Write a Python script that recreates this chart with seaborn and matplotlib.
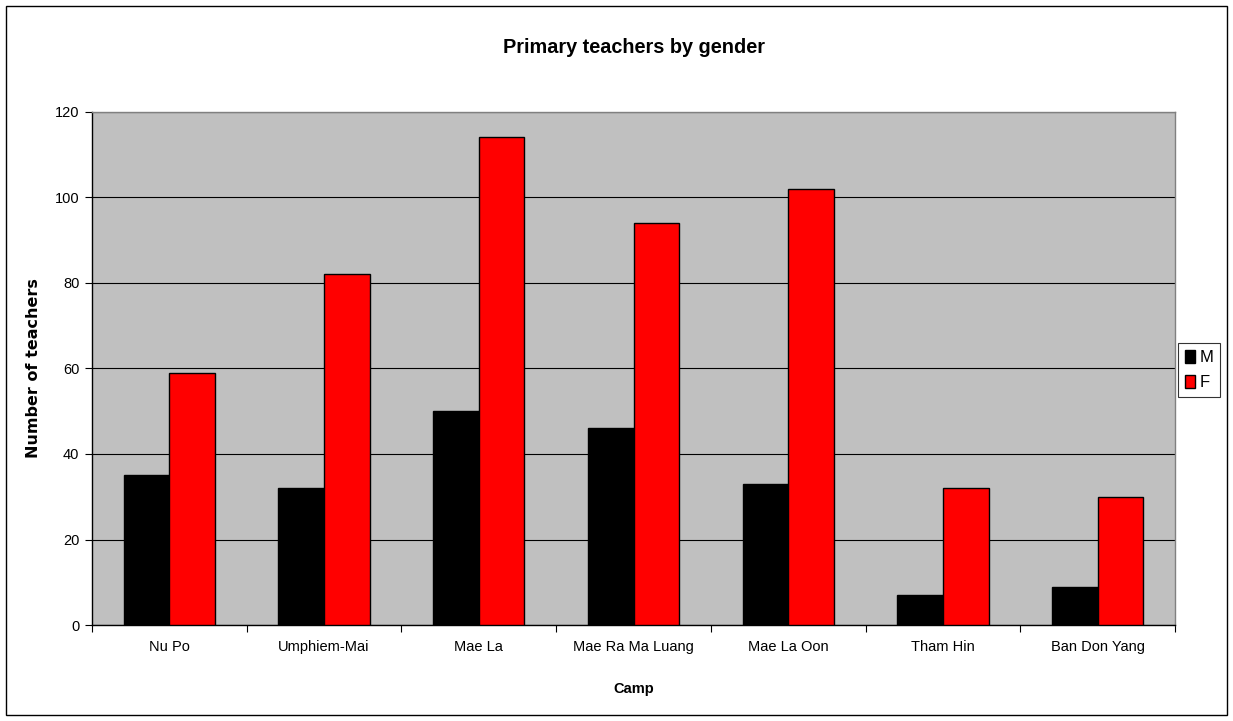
import numpy as np
import pandas as pd
import matplotlib
matplotlib.use("Agg")
import matplotlib.pyplot as plt
import seaborn as sns
from matplotlib.patches import Rectangle

# --- DATA ---
camps = ["Nu Po", "Umphiem-Mai", "Mae La", "Mae Ra Ma Luang",
         "Mae La Oon", "Tham Hin", "Ban Don Yang"]
male = [35, 32, 50, 46, 33, 7, 9]
female = [59, 82, 114, 94, 102, 32, 30]
genders = ["M", "F"]
yticks = [0, 20, 40, 60, 80, 100, 120]

df = pd.DataFrame({
    "Camp": camps * 2,
    "Gender": ["M"] * len(camps) + ["F"] * len(camps),
    "Teachers": male + female,
})

sns.set_style("white")
plt.rcParams["font.family"] = ["Liberation Sans", "DejaVu Sans"]
plt.rcParams["text.color"] = "black"
plt.rcParams["axes.labelcolor"] = "black"
plt.rcParams["xtick.color"] = "black"
plt.rcParams["ytick.color"] = "black"

fig = plt.figure(figsize=(12.33, 7.21), dpi=100)
ax = fig.add_axes([0.0746, 0.133, 0.953 - 0.0746, 0.712])

sns.barplot(data=df, x="Camp", y="Teachers", hue="Gender", hue_order=genders,
            palette={"M": "#000000", "F": "#FF0000"}, width=0.59,
            edgecolor="black", linewidth=1.0, saturation=1, ax=ax, zorder=3)

ax.set_facecolor("#C0C0C0")
ax.set_ylim(0, 120)
ax.set_xlim(-0.5, len(camps) - 0.5)
ax.set_yticks(yticks)
ax.yaxis.grid(True, color="black", linewidth=0.8, zorder=1)
ax.set_axisbelow(True)

# tick marks between categories like the original
ax.set_xticks(np.arange(-0.5, len(camps), 1.0), minor=True)
ax.tick_params(axis="x", which="major", bottom=True, length=0, pad=11, labelsize=10.5)
ax.tick_params(axis="x", which="minor", bottom=True, length=5, width=0.8, color="black", direction="out")
ax.tick_params(axis="y", left=True, length=5, width=0.8, color="black", direction="out", labelsize=10.5, pad=4)

for side in ["top", "right"]:
    ax.spines[side].set_color("#808080")
    ax.spines[side].set_linewidth(1.0)
for side in ["left", "bottom"]:
    ax.spines[side].set_color("black")
    ax.spines[side].set_linewidth(1.0)

ax.set_title("Primary teachers by gender", fontsize=14.3, fontweight="bold", pad=42, color="black")
ax.set_xlabel("Camp", fontsize=10.5, fontweight="bold", labelpad=20)
ax.set_ylabel("Number of teachers", fontsize=11.5, fontweight="bold", labelpad=10,
              family=["DejaVu Sans"])

ax.legend(title=None, loc="center left", bbox_to_anchor=(1178 / 1233, 1 - 370 / 721),
          bbox_transform=fig.transFigure, frameon=True, fancybox=False,
          edgecolor="black", fontsize=12, handlelength=0.6, handleheight=0.8,
          handletextpad=0.3, borderpad=0.4, labelspacing=0.6, borderaxespad=0)
ax.get_legend().get_frame().set_linewidth(0.8)

fig.patches.append(Rectangle((0.005, 0.008), 0.99, 0.984, transform=fig.transFigure,
                             fill=False, edgecolor="black", linewidth=1.0))

fig.savefig("out.png", dpi=100, facecolor="white")
